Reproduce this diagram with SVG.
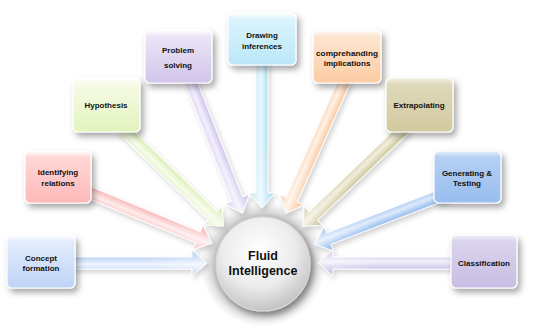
<svg xmlns="http://www.w3.org/2000/svg" width="543" height="336" viewBox="0 0 543 336">
<style>
.box{stroke:#ffffff;stroke-width:1.2;filter:url(#sh)}
.lbl{font-family:"Liberation Sans",Arial,sans-serif;font-weight:bold;font-size:8px;fill:#111;text-anchor:middle}
.big{font-family:"Liberation Sans",Arial,sans-serif;font-weight:bold;font-size:12.5px;fill:#111;text-anchor:middle}
.arr{stroke:#ffffff;stroke-width:1;stroke-opacity:0.9}
.fade{fill:url(#fade)}
</style>
<defs>
<filter id="sh" x="-30%" y="-30%" width="170%" height="170%">
<feDropShadow dx="3" dy="4" stdDeviation="3" flood-color="#000" flood-opacity="0.35"/>
</filter>
<filter id="ash" x="-20%" y="-60%" width="140%" height="220%">
<feDropShadow dx="2" dy="3" stdDeviation="2.5" flood-color="#000" flood-opacity="0.18"/>
</filter>
<linearGradient id="fade" x1="0" y1="0" x2="1" y2="0">
<stop offset="0.55" stop-color="#fff" stop-opacity="0"/>
<stop offset="1" stop-color="#fff" stop-opacity="0.4"/>
</linearGradient>
<radialGradient id="halo" cx="0.5" cy="0.5" r="0.5">
<stop offset="0.7" stop-color="#8a8a8a" stop-opacity="0.7"/>
<stop offset="1" stop-color="#bbbbbb" stop-opacity="0"/>
</radialGradient>
<radialGradient id="circ" cx="0.45" cy="0.35" r="0.65">
<stop offset="0" stop-color="#ffffff"/>
<stop offset="0.6" stop-color="#ececec"/>
<stop offset="1" stop-color="#c4c4c4"/>
</radialGradient>
<linearGradient id="b1" x1="0" y1="0" x2="0" y2="1"><stop offset="0" stop-color="#ffffff"/><stop offset="0.12" stop-color="#e3ecfc"/><stop offset="1" stop-color="#bed3f6"/></linearGradient>
<linearGradient id="b2" x1="0" y1="0" x2="0" y2="1"><stop offset="0" stop-color="#ffffff"/><stop offset="0.12" stop-color="#ffd6d6"/><stop offset="1" stop-color="#ffb8b8"/></linearGradient>
<linearGradient id="b3" x1="0" y1="0" x2="0" y2="1"><stop offset="0" stop-color="#ffffff"/><stop offset="0.12" stop-color="#f6fbe6"/><stop offset="1" stop-color="#e2f3bb"/></linearGradient>
<linearGradient id="b4" x1="0" y1="0" x2="0" y2="1"><stop offset="0" stop-color="#ffffff"/><stop offset="0.12" stop-color="#ebe4f6"/><stop offset="1" stop-color="#d2c5eb"/></linearGradient>
<linearGradient id="b5" x1="0" y1="0" x2="0" y2="1"><stop offset="0" stop-color="#ffffff"/><stop offset="0.12" stop-color="#daf4fd"/><stop offset="1" stop-color="#bbe7f8"/></linearGradient>
<linearGradient id="b6" x1="0" y1="0" x2="0" y2="1"><stop offset="0" stop-color="#ffffff"/><stop offset="0.12" stop-color="#fde5d0"/><stop offset="1" stop-color="#fbcca2"/></linearGradient>
<linearGradient id="b7" x1="0" y1="0" x2="0" y2="1"><stop offset="0" stop-color="#f4f1e2"/><stop offset="0.12" stop-color="#dfd9bb"/><stop offset="1" stop-color="#d1c99f"/></linearGradient>
<linearGradient id="b8" x1="0" y1="0" x2="0" y2="1"><stop offset="0" stop-color="#e8f1fc"/><stop offset="0.12" stop-color="#b4d0f3"/><stop offset="1" stop-color="#98bdee"/></linearGradient>
<linearGradient id="b9" x1="0" y1="0" x2="0" y2="1"><stop offset="0" stop-color="#f3f0fa"/><stop offset="0.12" stop-color="#dbd4ed"/><stop offset="1" stop-color="#c8bde3"/></linearGradient>
<linearGradient id="a1" x1="0" y1="0" x2="0" y2="1"><stop offset="0.15" stop-color="#a6c4ee"/><stop offset="0.55" stop-color="#eef4ff"/><stop offset="0.9" stop-color="#b8d0f2"/></linearGradient>
<linearGradient id="a2" x1="0" y1="0" x2="0" y2="1"><stop offset="0.15" stop-color="#f4a0a0"/><stop offset="0.55" stop-color="#ffecec"/><stop offset="0.9" stop-color="#f6b8b8"/></linearGradient>
<linearGradient id="a3" x1="0" y1="0" x2="0" y2="1"><stop offset="0.15" stop-color="#cde89c"/><stop offset="0.55" stop-color="#f6fce8"/><stop offset="0.9" stop-color="#daedb6"/></linearGradient>
<linearGradient id="a4" x1="0" y1="0" x2="0" y2="1"><stop offset="0.15" stop-color="#c0b0e4"/><stop offset="0.55" stop-color="#f3effc"/><stop offset="0.9" stop-color="#d0c3ec"/></linearGradient>
<linearGradient id="a5" x1="0" y1="0" x2="0" y2="1"><stop offset="0.15" stop-color="#98d4ec"/><stop offset="0.55" stop-color="#eaf8ff"/><stop offset="0.9" stop-color="#b2e0f2"/></linearGradient>
<linearGradient id="a6" x1="0" y1="0" x2="0" y2="1"><stop offset="0.15" stop-color="#f6b884"/><stop offset="0.55" stop-color="#fff1e4"/><stop offset="0.9" stop-color="#f8c8a0"/></linearGradient>
<linearGradient id="a7" x1="0" y1="0" x2="0" y2="1"><stop offset="0.15" stop-color="#beb47c"/><stop offset="0.55" stop-color="#f1eedc"/><stop offset="0.9" stop-color="#ccc496"/></linearGradient>
<linearGradient id="a8" x1="0" y1="0" x2="0" y2="1"><stop offset="0.15" stop-color="#70a6e6"/><stop offset="0.55" stop-color="#deebfc"/><stop offset="0.9" stop-color="#8ab6ec"/></linearGradient>
<linearGradient id="a9" x1="0" y1="0" x2="0" y2="1"><stop offset="0.15" stop-color="#baaddf"/><stop offset="0.55" stop-color="#f3f0fb"/><stop offset="0.9" stop-color="#cabfe6"/></linearGradient>
</defs>

<rect width="543" height="336" fill="#ffffff"/>

<circle id="halo" cx="263" cy="264" r="63" fill="url(#halo)"/>

<g id="connectors" filter="url(#ash)">
<g transform="translate(70,263)">
<path class="arr" fill="url(#a1)" d="M0,-6 H122 V-13 L137,0 L122,13 V6 H0 Z"/>
<path class="fade" d="M0,-6 H122 V-13 L137,0 L122,13 V6 H0 Z"/>
</g>
<g transform="translate(88,192) rotate(22.4)">
<path class="arr" fill="url(#a2)" d="M0,-6 H119 V-13 L134,0 L119,13 V6 H0 Z"/>
<path class="fade" d="M0,-6 H119 V-13 L134,0 L119,13 V6 H0 Z"/>
</g>
<g transform="translate(122,128) rotate(44)">
<path class="arr" fill="url(#a3)" d="M0,-6 H126 V-13 L141,0 L126,13 V6 H0 Z"/>
<path class="fade" d="M0,-6 H126 V-13 L141,0 L126,13 V6 H0 Z"/>
</g>
<g transform="translate(190,80) rotate(68.4)">
<path class="arr" fill="url(#a4)" d="M0,-6 H128 V-13 L143,0 L128,13 V6 H0 Z"/>
<path class="fade" d="M0,-6 H128 V-13 L143,0 L128,13 V6 H0 Z"/>
</g>
<g transform="translate(262,62) rotate(90)">
<path class="arr" fill="url(#a5)" d="M0,-6 H131 V-13 L146,0 L131,13 V6 H0 Z"/>
<path class="fade" d="M0,-6 H131 V-13 L146,0 L131,13 V6 H0 Z"/>
</g>
<g transform="translate(345,80) rotate(114)">
<path class="arr" fill="url(#a6)" d="M0,-6 H131 V-13 L146,0 L131,13 V6 H0 Z"/>
<path class="fade" d="M0,-6 H131 V-13 L146,0 L131,13 V6 H0 Z"/>
</g>
<g transform="translate(405,128) rotate(136.2)">
<path class="arr" fill="url(#a7)" d="M0,-6 H127 V-13 L142,0 L127,13 V6 H0 Z"/>
<path class="fade" d="M0,-6 H127 V-13 L142,0 L127,13 V6 H0 Z"/>
</g>
<g transform="translate(450,192) rotate(158.9)">
<path class="arr" fill="url(#a8)" d="M0,-6 H130 V-13 L145,0 L130,13 V6 H0 Z"/>
<path class="fade" d="M0,-6 H130 V-13 L145,0 L130,13 V6 H0 Z"/>
</g>
<g transform="translate(455,263) rotate(180)">
<path class="arr" fill="url(#a9)" d="M0,-6 H122 V-13 L137,0 L122,13 V6 H0 Z"/>
<path class="fade" d="M0,-6 H122 V-13 L137,0 L122,13 V6 H0 Z"/>
</g>
</g>

<g id="concept-formation">
<rect class="box" x="7" y="235" width="68" height="53" rx="5" fill="url(#b1)"/>
<text class="lbl" x="41" y="261">Concept</text>
<text class="lbl" x="41" y="271">formation</text>
</g>
<g id="identifying-relations">
<rect class="box" x="25" y="151" width="66" height="52" rx="5" fill="url(#b2)"/>
<text class="lbl" x="58" y="175">Identifying</text>
<text class="lbl" x="58" y="186">relations</text>
</g>
<g id="hypothesis">
<rect class="box" x="73" y="78" width="67" height="54" rx="5" fill="url(#b3)"/>
<text class="lbl" x="106" y="108">Hypothesis</text>
</g>
<g id="problem-solving">
<rect class="box" x="145" y="30" width="67" height="53" rx="5" fill="url(#b4)"/>
<text class="lbl" x="178" y="53">Problem</text>
<text class="lbl" x="178" y="68">solving</text>
</g>
<g id="drawing-inferences">
<rect class="box" x="228" y="13" width="68" height="52" rx="5" fill="url(#b5)"/>
<text class="lbl" x="262" y="38">Drawing</text>
<text class="lbl" x="262" y="49">inferences</text>
</g>
<g id="comprehanding-implications">
<rect class="box" x="313" y="30" width="68" height="53" rx="5" fill="url(#b6)"/>
<text class="lbl" x="347" y="56" textLength="62" lengthAdjust="spacingAndGlyphs">comprehanding</text>
<text class="lbl" x="347" y="66">implications</text>
</g>
<g id="extrapolating">
<rect class="box" x="386" y="78" width="67" height="54" rx="5" fill="url(#b7)"/>
<text class="lbl" x="419" y="108">Extrapolating</text>
</g>
<g id="generating-testing">
<rect class="box" x="434" y="151" width="67" height="52" rx="5" fill="url(#b8)"/>
<text class="lbl" x="467" y="176">Generating &amp;</text>
<text class="lbl" x="467" y="186">Testing</text>
</g>
<g id="classification">
<rect class="box" x="451" y="235" width="66" height="53" rx="5" fill="url(#b9)"/>
<text class="lbl" x="484" y="266">Classification</text>
</g>
<g id="fluid-intelligence">
<circle cx="263" cy="264" r="47" fill="url(#circ)" stroke="#d8d8d8" stroke-width="1.2" filter="url(#sh)"/>
<text class="big" x="263" y="260">Fluid</text>
<text class="big" x="263" y="275">Intelligence</text>
</g>
</svg>
